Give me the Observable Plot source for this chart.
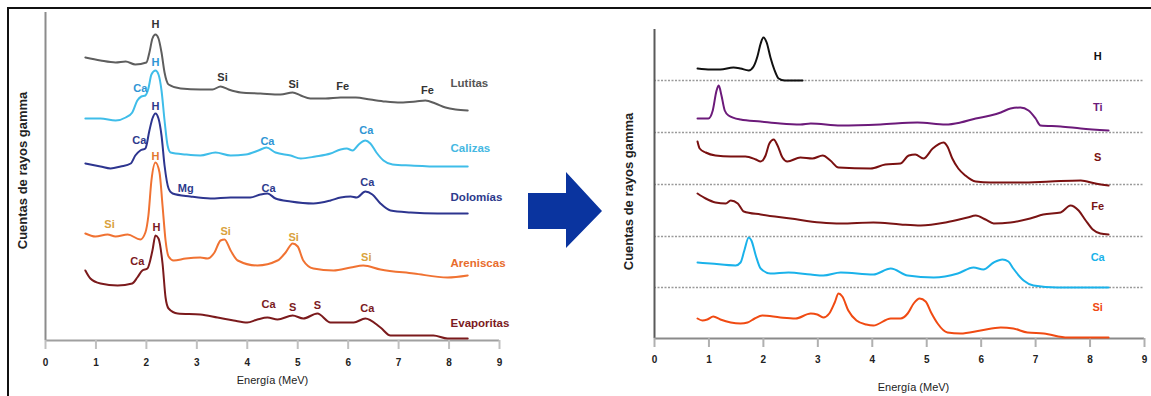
<!DOCTYPE html>
<html>
<head>
<meta charset="utf-8">
<script src="https://cdn.jsdelivr.net/npm/d3@7"></script>
<script src="https://cdn.jsdelivr.net/npm/@observablehq/plot@0.6"></script>
<style>
  body { margin: 0; background: #fff; }
  #wrap { position: relative; width: 1151px; height: 396px; overflow: hidden; font-family: "Liberation Sans", Arial, sans-serif; }
  #frame { position: absolute; left: 7px; top: 7px; right: -5px; bottom: -5px; border-top: 2px solid #111; border-left: 2px solid #111; }
  #left { position: absolute; left: 0; top: 0; }
  #right { position: absolute; left: 560px; top: 0; }
  #arrow { position: absolute; left: 0; top: 0; }
</style>
</head>
<body>
<div id="wrap">
  <div id="frame"></div>
  <div id="left"></div>
  <div id="right"></div>
  <svg id="arrow" width="1151" height="396"></svg>
</div>
<script>
// ---------- Shared ----------
const ticksEnergia = [0, 1, 2, 3, 4, 5, 6, 7, 8, 9];
const tituloX = "Energía (MeV)";
const tituloY = "Cuentas de rayos gamma";

// ---------- Left panel: rock spectra ----------
const energiaLutitas = [0.79,1.09,1.39,1.59,1.78,2.00,2.06,2.12,2.18,2.24,2.30,2.36,2.44,2.68,3.07,3.31,3.47,3.63,3.87,4.26,4.66,4.90,5.06,5.25,5.55,5.85,6.15,6.44,6.74,7.04,7.34,7.53,7.73,7.93,8.13,8.37];
const cuentasLutitas = [283,280,278,279,276,278,288,302,306,302,288,268,256,252,251,251,254,251,248,247,246,248,245,242,242,243,243,241,239,238,239,240,237,233,231,230];

const energiaCalizas = [0.79,1.09,1.39,1.59,1.72,1.82,1.90,1.98,2.04,2.10,2.18,2.24,2.30,2.36,2.42,2.48,2.78,3.07,3.37,3.67,3.97,4.22,4.38,4.56,4.86,5.06,5.35,5.65,5.85,5.97,6.09,6.21,6.34,6.44,6.56,6.70,6.88,7.24,7.83,8.37];
const cuentasCalizas = [222,222,220,223,228,240,244,245,252,266,270,266,250,220,195,188,186,185,188,185,186,190,193,188,185,182,184,187,191,192,190,196,200,197,188,180,176,175,174,174];

const energiaDolomias = [0.79,1.09,1.29,1.49,1.69,1.78,1.88,1.98,2.06,2.12,2.18,2.24,2.30,2.36,2.44,2.52,2.87,3.27,3.67,4.06,4.26,4.40,4.56,4.86,5.31,5.65,5.85,6.05,6.17,6.34,6.48,6.64,6.84,7.24,7.77,8.37];
const cuentasDolomias = [177,174,172,174,177,185,190,192,210,222,227,222,205,175,152,147,144,142,143,143,146,147,142,139,137,140,143,144,143,149,146,137,130,128,127,127];

const energiaAreniscas = [0.79,0.99,1.23,1.39,1.63,1.88,1.98,2.04,2.10,2.18,2.26,2.32,2.38,2.44,2.54,2.78,3.07,3.21,3.35,3.47,3.55,3.67,3.81,4.20,4.60,4.76,4.90,5.00,5.11,5.31,5.71,6.05,6.30,6.64,7.30,7.97,8.37];
const cuentasAreniscas = [107,104,106,104,106,101,108,125,160,178,168,135,100,84,80,82,83,82,88,100,101,90,80,75,80,88,97,94,80,72,70,73,75,71,67,63,65];

const energiaEvaporitas = [0.79,0.89,1.09,1.43,1.72,1.82,1.92,2.02,2.12,2.18,2.24,2.32,2.38,2.44,2.62,3.07,3.41,3.73,4.00,4.20,4.40,4.60,4.90,5.11,5.39,5.65,6.11,6.34,6.64,6.84,7.69,7.97,8.37];
const cuentasEvaporitas = [70,62,57,55,57,63,70,72,90,105,102,77,43,32,27,26,23,20,18,21,23,21,25,22,27,18,18,22,13,5,5,2,2];

// peak labels (element, energy, level)
const picosLutitas = ["H","Si","Si","Fe","Fe"];
const ePicosLutitas = [2.18,3.51,4.92,5.89,7.57];
const yPicosLutitas = [316,263,256,254,250];

const picosCalizas = ["Ca","H","Ca","Ca"];
const ePicosCalizas = [1.88,2.18,4.40,6.36];
const yPicosCalizas = [252,278,199,210];

const picosDolomias = ["Ca","H","Mg","Ca","Ca"];
const ePicosDolomias = [1.86,2.18,2.78,4.42,6.38];
const yPicosDolomias = [200,234,152,152,158];

const picosAreniscasSi = ["Si","Si","Si","Si"];
const ePicosAreniscasSi = [1.27,3.57,4.92,6.36];
const yPicosAreniscasSi = [116,109,103,83];
const picosAreniscasH = ["H"];
const ePicosAreniscasH = [2.18];
const yPicosAreniscasH = [184];

const picosEvaporitas = ["Ca","H","Ca","S","S","Ca"];
const ePicosEvaporitas = [1.82,2.20,4.42,4.90,5.39,6.38];
const yPicosEvaporitas = [79,113,36,33,35,32];

const rocas = ["Lutitas","Calizas","Dolomías","Areniscas","Evaporitas"];
const eRocas = [8.03,8.03,8.03,8.03,8.03];
const yRocas = [257,192,143,77,17];

// ---------- Right panel: element spectra ----------
const energiaH = [0.79,1.03,1.21,1.45,1.58,1.73,1.82,1.89,1.95,2.00,2.06,2.13,2.20,2.28,2.39,2.72];
const cuentasH = [270,269,269,271,270,268,272,282,295,301,296,281,269,260,258,258];

const energiaTi = [0.79,0.99,1.07,1.14,1.18,1.23,1.29,1.36,1.58,1.95,2.31,2.68,2.87,3.42,4.15,4.83,5.35,5.62,5.90,6.17,6.36,6.54,6.72,6.87,7.00,7.09,7.46,7.83,8.34];
const cuentasTi = [220,220,228,248,253,243,228,223,219,217,215,214,215,213,214,216,214,216,220,223,226,230,231,228,220,213,212,210,208];

const energiaS = [0.79,0.83,0.94,1.12,1.40,1.67,1.86,1.95,2.04,2.11,2.19,2.26,2.35,2.44,2.68,2.90,3.09,3.23,3.38,3.97,4.24,4.52,4.67,4.79,4.94,5.11,5.31,5.38,5.47,5.58,5.71,5.90,6.17,6.72,7.27,7.83,8.10,8.34];
const cuentasS = [197,190,186,183,182,182,179,177,183,195,199,193,181,177,181,180,183,178,171,170,174,175,183,184,180,190,196,192,180,170,163,157,156,156,157,158,155,153];

const energiaFe = [0.79,0.94,1.12,1.31,1.40,1.53,1.64,1.95,2.50,3.05,3.42,4.02,4.52,4.89,5.35,5.75,5.90,6.08,6.23,6.54,6.90,7.14,7.46,7.64,7.79,7.92,8.05,8.19,8.34];
const cuentasFe = [145,140,136,135,138,135,127,124,120,116,115,116,114,113,116,121,123,119,115,116,120,124,126,133,128,118,109,105,104];

const energiaCa = [0.79,1.03,1.49,1.58,1.65,1.73,1.78,1.86,1.95,2.13,2.46,2.87,3.10,3.42,4.02,4.34,4.65,5.13,5.57,5.86,6.04,6.23,6.39,6.50,6.59,6.78,6.96,7.40,8.34];
const cuentasCa = [76,75,73,76,88,101,98,83,70,65,66,64,63,66,64,70,63,61,65,71,69,76,79,77,70,58,53,51,51];

const energiaSi = [0.79,0.88,0.97,1.08,1.21,1.40,1.58,1.71,1.84,1.98,2.31,2.59,2.87,2.99,3.10,3.21,3.31,3.38,3.45,3.56,3.71,3.89,4.02,4.34,4.52,4.65,4.76,4.87,4.98,5.09,5.20,5.38,5.62,5.99,6.36,6.59,6.85,7.15,7.59,8.06,8.34];
const cuentasSi = [20,18,19,22,19,16,15,16,20,23,21,20,25,24,21,25,36,45,42,28,18,14,13,20,20,25,35,40,37,25,15,6,5,8,11,10,6,5,1,1,1];

const elementos = ["H","Ti","S","Fe","Ca","Si"];
const eElementos = [8.14,8.14,8.14,8.14,8.14,8.14];
const yElementos = [282,231,181,132,81,31];
const separadores = [258,206,154,102,51];

// ---------- helpers ----------
const FONT = "'Liberation Sans', Arial, Helvetica, sans-serif";
const pts = (E, C) => E.map((e, i) => ({e, c: C[i]}));
const lbl = (T, E, C) => T.map((t, i) => ({t, e: E[i], c: C[i]}));
const line = (E, C, stroke) => Plot.line(pts(E, C), {x: "e", y: "c", stroke, strokeWidth: 2, curve: "monotone-x"});
const txt = (T, E, C, fill, opts = {}) => Plot.text(lbl(T, E, C), {x: "e", y: "c", text: "t", fill, fontSize: 11, fontWeight: "bold", ...opts});

// ---------- left plot ----------
const leftPlot = Plot.plot({
  width: 520, height: 396,
  marginLeft: 45, marginRight: 21, marginTop: 12, marginBottom: 56,
  x: {domain: [0, 9]},
  y: {domain: [0, 328], axis: null},
  style: {fontFamily: FONT, background: "transparent", overflow: "visible"},
  marks: [
    Plot.ruleX([0], {stroke: "#8c8c8c", strokeWidth: 2}),
    Plot.ruleY([0], {stroke: "#a0a0a0", strokeWidth: 2}),
    Plot.axisX({ticks: ticksEnergia, tickSize: 9, tickPadding: 9.5, stroke: "#c0c0c0", strokeWidth: 2, fill: "#222", fontSize: 10, fontWeight: "bold", label: null, tickFormat: d => String(d)}),
    line(energiaLutitas, cuentasLutitas, "#5e5e5e"),
    line(energiaCalizas, cuentasCalizas, "#3fbde9"),
    line(energiaDolomias, cuentasDolomias, "#2d358f"),
    line(energiaAreniscas, cuentasAreniscas, "#f07232"),
    line(energiaEvaporitas, cuentasEvaporitas, "#7b1a1c"),
    txt(picosLutitas, ePicosLutitas, yPicosLutitas, "#333"),
    txt(picosCalizas, ePicosCalizas, yPicosCalizas, "#2f95d4"),
    txt(picosDolomias, ePicosDolomias, yPicosDolomias, "#2d3a8c"),
    txt(picosAreniscasSi, ePicosAreniscasSi, yPicosAreniscasSi, "#d9a23c"),
    txt(picosAreniscasH, ePicosAreniscasH, yPicosAreniscasH, "#e2782e"),
    txt(picosEvaporitas, ePicosEvaporitas, yPicosEvaporitas, "#7b1a22"),
    Plot.text(lbl(rocas, eRocas, yRocas), {x: "e", y: "c", text: "t", textAnchor: "start", fontSize: 11.5, fontWeight: "bold",
      fill: (d) => ({"Lutitas": "#555", "Calizas": "#45b8e2", "Dolomías": "#2d3a8c", "Areniscas": "#e86c2c", "Evaporitas": "#7b1a22"})[d.t]}),
    Plot.text([tituloY], {text: d => d, frameAnchor: "left", textAnchor: "middle", rotate: -90, dx: -23, dy: -6, fontSize: 13, fontWeight: "bold", fill: "#222"}),
    Plot.text([tituloX], {text: d => d, frameAnchor: "bottom", dy: 43, fontSize: 11, fill: "#222"})
  ]
});
document.getElementById("left").appendChild(leftPlot);

// ---------- right plot ----------
const rightPlot = Plot.plot({
  width: 591, height: 396,
  marginLeft: 94, marginRight: 7, marginTop: 29, marginBottom: 58,
  x: {domain: [0, 9]},
  y: {domain: [0, 309], axis: null},
  style: {fontFamily: FONT, background: "transparent", overflow: "visible"},
  marks: [
    Plot.ruleY(separadores, {stroke: "#9a9a9a", strokeWidth: 1.5, strokeDasharray: "2,1.5"}),
    Plot.ruleX([0], {stroke: "#5a5a5a", strokeWidth: 2}),
    Plot.ruleY([0], {stroke: "#8a8a8a", strokeWidth: 2}),
    Plot.axisX({ticks: ticksEnergia, tickSize: 9, tickPadding: 8.5, stroke: "#b0b0b0", strokeWidth: 2, fill: "#222", fontSize: 10, fontWeight: "bold", label: null, tickFormat: d => String(d)}),
    line(energiaH, cuentasH, "#111"),
    line(energiaTi, cuentasTi, "#6c1a7a"),
    line(energiaS, cuentasS, "#7a1010"),
    line(energiaFe, cuentasFe, "#7a1414"),
    line(energiaCa, cuentasCa, "#1ab2ea"),
    line(energiaSi, cuentasSi, "#f04a12"),
    Plot.text(lbl(elementos, eElementos, yElementos), {x: "e", y: "c", text: "t", fontSize: 11, fontWeight: "bold",
      fill: (d) => ({"H": "#111", "Ti": "#6c1a7a", "S": "#7a1010", "Fe": "#7a1414", "Ca": "#1ab2ea", "Si": "#f04a12"})[d.t]}),
    Plot.text([tituloY], {text: d => d, frameAnchor: "left", textAnchor: "middle", rotate: -90, dx: -26, dy: 7.5, fontSize: 13, fontWeight: "bold", fill: "#222"}),
    Plot.text([tituloX], {text: d => d, frameAnchor: "bottom", dx: 14, dy: 52, fontSize: 11, fill: "#222"})
  ]
});
document.getElementById("right").appendChild(rightPlot);

// ---------- arrow between panels (decoration) ----------
d3.select("#arrow").append("polygon")
  .attr("points", "528,193 566,193 566,172 602,211 566,248 566,229 528,229")
  .attr("fill", "#0a349f");
</script>
</body>
</html>
